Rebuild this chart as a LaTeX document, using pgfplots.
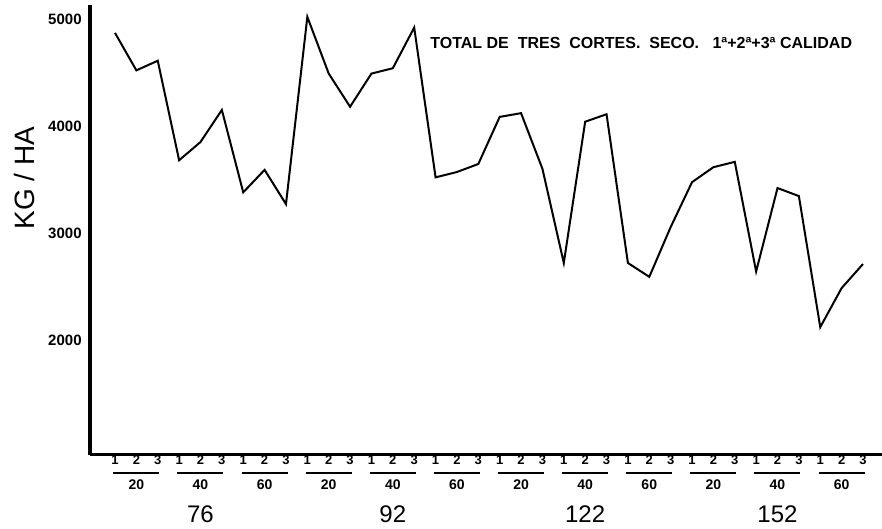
\documentclass[border=0pt]{standalone}
\usepackage{pgfplots}
\pgfplotsset{compat=1.18}
\usepackage{fontspec}
\setmainfont{Liberation Sans}

\begin{document}
\begin{tikzpicture}
  \useasboundingbox (0,0) rectangle (441pt,264.5pt);
  \begin{axis}[
      at={(45pt,37pt)}, anchor=south west,
      width=396pt, height=225pt, scale only axis,
      xmin=-1.17, xmax=35.89, ymin=925, ymax=5131,
      axis x line=bottom, axis y line=left,
      axis line style={-},
      x axis line style={line width=1.5pt},
      y axis line style={line width=2pt},
      major tick length=0pt,
      xtick=data,
      xticklabels={1,2,3,1,2,3,1,2,3,1,2,3,1,2,3,1,2,3,1,2,3,1,2,3,1,2,3,1,2,3,1,2,3,1,2,3},
      xticklabel style={anchor=center, yshift=-2.6pt, inner sep=0pt,
        font=\fontsize{6.5}{7}\selectfont\bfseries},
      ytick={2000,3000,4000,5000},
      yticklabel style={anchor=east, inner sep=0pt, xshift=-4pt,
        font=\fontsize{7.5}{8}\selectfont\bfseries},
      /pgf/number format/assume math mode=true,
      /pgf/number format/set thousands separator={},
      clip=false,
    ]
    \addplot[black, line width=1pt] coordinates {
      (0,4870) (1,4520) (2,4610) (3,3680) (4,3850) (5,4150)
      (6,3380) (7,3590) (8,3270) (9,5020) (10,4490) (11,4180)
      (12,4490) (13,4540) (14,4920) (15,3520) (16,3570) (17,3645)
      (18,4085) (19,4120) (20,3600) (21,2720) (22,4040) (23,4110)
      (24,2720) (25,2590) (26,3055) (27,3475) (28,3615) (29,3665)
      (30,2640) (31,3420) (32,3345) (33,2120) (34,2485) (35,2710)
    };
  \end{axis}
  \begin{scope}[x=0.5pt, y=0.5pt]
    % sub-group underlines and labels
    \foreach \i/\lab in {0/20,1/40,2/60,3/20,4/40,5/60,6/20,7/40,8/60,9/20,10/40,11/60} {
      \pgfmathsetmacro{\xc}{115+21.37*(3*\i+1)}
      \draw[line width=0.6pt] (\xc-23,56) -- (\xc+23,56);
      \node[inner sep=0pt, font=\fontsize{7}{8}\selectfont\bfseries] at (\xc,44) {\lab};
    }
    % main group labels
    \foreach \k/\lab in {0/76,1/92,2/122,3/152} {
      \pgfmathsetmacro{\xc}{115+21.37*(9*\k+4)}
      \node[inner sep=0pt, font=\fontsize{12}{14}\selectfont] at (\xc,15) {\lab};
    }
    \node[inner sep=0pt, rotate=90, font=\fontsize{14}{16}\selectfont] at (24,351) {KG / HA};
    \node[inner sep=0pt, anchor=west, font=\fontsize{8}{9}\selectfont\bfseries] at (430,486)
      {TOTAL DE\ \ TRES\ \ CORTES.\ \ SECO.\ \ \ 1ª+2ª+3ª CALIDAD};
  \end{scope}
\end{tikzpicture}
\end{document}
